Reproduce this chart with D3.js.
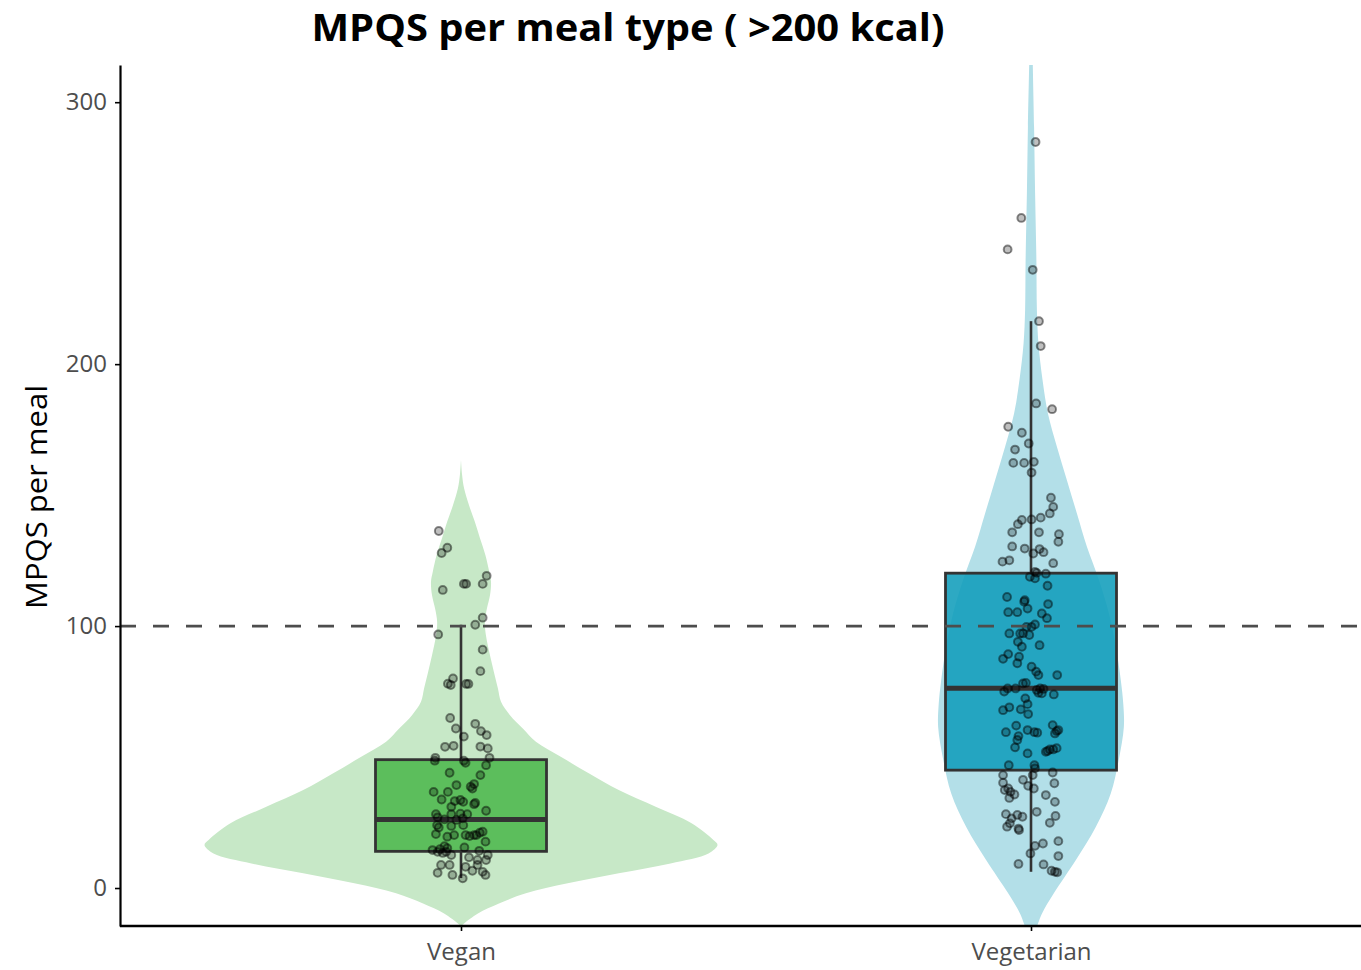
<!DOCTYPE html>
<html>
<head>
<meta charset="utf-8">
<script src="https://cdn.jsdelivr.net/npm/d3@7"></script>
<style>
  html, body { margin: 0; padding: 0; background: #ffffff; }
  svg { display: block; }
</style>
</head>
<body>
<svg id="chart" width="1361" height="970"></svg>
<script>
// ---------------- DATA ----------------
const categories = ["Vegan", "Vegetarian"];
const yTicks = [0, 100, 200, 300];
const referenceLine = 100;

// Box-plot statistics: [lower whisker, Q1, median, Q3, upper whisker]
const veganBox = [3.8, 14.0, 26.2, 49.0, 100.5];
const vegetarianBox = [6.2, 45.0, 76.3, 120.2, 216.4];

// Violin density profiles (value, relative density)
const veganViolinY = [-14.5, -13.5, -9.7, -5.9, -2.0, 1.8, 5.6, 9.4, 13.2, 16.4, 18.3, 24.7, 31, 37.4, 43.8, 50.1, 55.8, 60.9, 66, 71.1, 76.2, 82.6, 88.9, 96.6, 101.6, 106.7, 111.8, 116.9, 120.7, 127.1, 133.5, 139.8, 146.2, 152.6, 158, 163.4];
const veganViolinD = [0, 0.012, 0.066, 0.148, 0.253, 0.416, 0.615, 0.817, 0.965, 1.0, 0.984, 0.899, 0.759, 0.615, 0.498, 0.389, 0.292, 0.241, 0.191, 0.156, 0.144, 0.128, 0.113, 0.097, 0.093, 0.101, 0.113, 0.117, 0.110, 0.095, 0.074, 0.054, 0.031, 0.012, 0.004, 0];
const vegetarianViolinY = [-14.8, -9.7, -2, 10.7, 23.4, 36.1, 48.9, 61.5, 70, 79.4, 92.1, 104.8, 117.6, 130.3, 143, 155.7, 168.5, 181.2, 193.9, 207.9, 220.6, 239.7, 265.1, 290.6, 314.5];
const vegetarianViolinD = [0.023, 0.043, 0.089, 0.175, 0.253, 0.311, 0.342, 0.362, 0.360, 0.350, 0.331, 0.304, 0.265, 0.218, 0.179, 0.140, 0.101, 0.066, 0.045, 0.029, 0.023, 0.021, 0.016, 0.012, 0.007];

// Individual meals (MPQS values) and their horizontal jitter (category units)
const veganValues = [136.3,129.9,127.9,119.2,116.1,116.1,116.1,113.8,103.2,100.5,
  96.8,91,82.8,80,78,77.5,77.9,77.9,64.9,62.7,
  60.9,59.9,58.4,57.8,53.9,54.3,54,53.3,49.7,49.7,
  48.6,48.6,47.8,46.9,44,43.1,39.3,38.7,39.7,38,
  36.7,36.7,33.6,33.2,32.9,33.8,32,32.5,31,29.5,
  28.2,27,28.2,28.4,28.2,26.2,26,26.6,24,23.1,
  23.7,24,21.5,21.1,20.6,19.6,20.2,20.2,19.8,20.2,
  20.2,17.7,14.5,13.8,13.4,13.8,16,15.5,14.2,12.6,
  12.6,8.8,8.8,11.7,10.7,10.7,5.8,5,3.7,6.6,
  6.2,5,8.1,8.8,14.8,15.2];
const veganJitter = [-0.039,-0.024,-0.034,0.045,0.005,0.009,0.038,-0.032,0.038,0.025,
  -0.040,0.038,0.034,-0.014,-0.023,-0.018,0.009,0.013,-0.019,0.025,
  -0.009,0.035,0.045,0.005,-0.028,-0.013,0.034,0.047,0.050,-0.045,
  0.005,-0.046,0.008,0.044,-0.020,0.034,-0.008,0.017,0.023,0.020,
  -0.048,-0.023,-0.001,-0.011,0.004,-0.034,0.023,0.025,-0.017,0.044,
  -0.044,-0.041,-0.017,-0.001,0.011,-0.029,-0.008,0.003,-0.042,-0.039,
  -0.017,0.004,0.038,0.033,-0.044,-0.024,-0.012,0.008,0.015,0.023,
  0.027,0.043,-0.050,-0.041,-0.032,-0.026,-0.029,0.006,0.032,0.047,
  -0.017,-0.035,-0.020,0.014,0.029,0.044,-0.041,-0.015,0.003,0.020,
  0.038,0.043,0.008,0.029,-0.037,-0.024];

const vegetarianValues = [284.8,255.8,243.8,236,216.4,206.9,185,182.8,176.1,173.8,
  167.4,169.7,162.3,162.3,162.7,158.6,149,145.5,143,141.4,
  140.7,140.5,138.9,135.8,135.8,135.1,132.2,130.4,129.6,129.4,
  128.2,127.7,124,124.6,125.1,120.7,120.3,120,118.8,118.2,
  115.4,111.1,109.9,109.3,106.7,108.4,105.3,105.3,104.8,103,
  100.6,99.7,99.7,96.6,97.2,97.2,97.2,94,92.1,92.7,
  89.3,87.5,88.3,85.8,84.5,82.6,81.3,81.3,76.2,76.2,
  75,78.1,78.3,75.6,74.5,76.2,74.3,76,73.9,72.4,
  70.2,68.2,67.9,69,66.4,62,59.5,58,56.5,53.7,
  60.3,59.5,59.3,62.2,59.9,60.3,59,51.4,52,52.9,
  52.9,53.4,52.3,46.9,46.9,45.7,43.1,40.2,37.4,38,
  36.7,35.7,34.4,41.3,39,38,43.1,44.1,40,35.5,
  32.9,28.2,26.6,24.7,27.9,27.2,23.4,22.7,22.1,29.1,
  27.5,24.9,16.1,17,13.2,17.9,12.2,9.2,9,6.6,
  6.2,6];
const vegetarianJitter = [0.008,-0.017,-0.041,0.003,0.014,0.017,0.009,0.037,-0.040,-0.016,
  -0.028,-0.004,-0.031,-0.012,0.005,0.001,0.035,0.039,0.033,0.017,
  0.001,-0.016,-0.023,-0.033,0.014,0.049,0.048,-0.033,-0.011,0.015,
  0.022,0.004,0.039,-0.050,-0.038,0.007,0.010,0.026,-0.002,0.007,
  0.029,-0.042,-0.011,-0.012,-0.006,0.030,-0.040,-0.024,0.019,0.028,
  0.007,0.001,-0.008,-0.003,-0.014,-0.019,-0.038,-0.023,-0.016,0.015,
  -0.040,-0.049,-0.021,-0.024,0.001,0.009,0.013,0.046,-0.041,-0.027,
  -0.047,-0.014,-0.009,0.010,0.013,0.016,0.019,0.022,0.040,-0.010,
  -0.006,-0.018,-0.049,-0.038,-0.005,-0.026,-0.044,-0.022,-0.024,-0.028,
  -0.006,0.006,0.011,0.038,0.045,0.048,0.042,-0.006,0.026,0.033,
  0.039,0.045,0.029,-0.039,0.006,0.007,-0.049,-0.049,-0.046,-0.040,
  -0.036,-0.029,-0.038,-0.014,-0.005,0.005,0.003,0.038,0.041,0.026,
  0.042,-0.044,-0.034,-0.037,-0.024,-0.015,-0.042,-0.022,-0.021,0.010,
  0.043,0.033,0.007,0.021,-0.001,0.048,0.048,-0.022,0.022,0.036,
  0.042,0.046];

// ---------------- STYLE ----------------
const violinColors = ["#C7E8C7", "#B3DFE8"];
const boxColors = ["#5CBE5C", "#109DBB"];
const boxOpacity = [1, 0.88];
const FONT = "'Open Sans', 'Noto Sans', 'DejaVu Sans', sans-serif";

// ---------------- LAYOUT ----------------
const panel = { left: 120, right: 1361, top: 65, bottom: 926 };
const svg = d3.select("#chart");

const y = d3.scaleLinear().domain([-14.5, 314.2]).range([panel.bottom, panel.top]);
const x = d3.scaleLinear().domain([0.4, 2.6]).range([119, 1373]);
const halfWidth = d3.scaleLinear().domain([0, 1]).range([0, 0.45]);
const boxHalf = 0.15;

svg.append("defs").append("clipPath").attr("id", "panelClip")
  .append("rect")
  .attr("x", panel.left).attr("y", panel.top)
  .attr("width", panel.right - panel.left).attr("height", panel.bottom - panel.top);

const plot = svg.append("g").attr("clip-path", "url(#panelClip)");

const groups = [
  { cat: 1, vy: veganViolinY, vd: veganViolinD, box: veganBox, values: veganValues, jitter: veganJitter },
  { cat: 2, vy: vegetarianViolinY, vd: vegetarianViolinD, box: vegetarianBox, values: vegetarianValues, jitter: vegetarianJitter }
];

// Violins
groups.forEach((g, i) => {
  const pts = g.vy.map((v, k) => ({ v, d: g.vd[k] }));
  const area = d3.area()
    .y(p => y(p.v))
    .x0(p => x(g.cat - halfWidth(p.d)))
    .x1(p => x(g.cat + halfWidth(p.d)))
    .curve(d3.curveCatmullRom.alpha(0.5));
  plot.append("path").datum(pts)
    .attr("d", area)
    .attr("fill", violinColors[i])
    .attr("stroke", "none");
});

// Boxes
groups.forEach((g, i) => {
  const [lo, q1, med, q3, hi] = g.box;
  const gb = plot.append("g");
  gb.append("line")
    .attr("x1", x(g.cat)).attr("x2", x(g.cat))
    .attr("y1", y(q3)).attr("y2", y(hi))
    .attr("stroke", "#333333").attr("stroke-width", 2.6);
  gb.append("line")
    .attr("x1", x(g.cat)).attr("x2", x(g.cat))
    .attr("y1", y(q1)).attr("y2", y(lo))
    .attr("stroke", "#333333").attr("stroke-width", 2.6);
  gb.append("rect")
    .attr("x", x(g.cat - boxHalf)).attr("y", y(q3))
    .attr("width", x(g.cat + boxHalf) - x(g.cat - boxHalf))
    .attr("height", y(q1) - y(q3))
    .attr("fill", boxColors[i]).attr("fill-opacity", boxOpacity[i])
    .attr("stroke", "#333333").attr("stroke-width", 2.8);
  gb.append("line")
    .attr("x1", x(g.cat - boxHalf)).attr("x2", x(g.cat + boxHalf))
    .attr("y1", y(med)).attr("y2", y(med))
    .attr("stroke", "#333333").attr("stroke-width", 5);
});

// Jittered points
groups.forEach(g => {
  plot.append("g").selectAll("circle")
    .data(g.values.map((v, k) => ({ v, j: g.jitter[k] })))
    .join("circle")
    .attr("cx", p => x(g.cat + p.j))
    .attr("cy", p => y(p.v))
    .attr("r", 3.9)
    .attr("fill", "#000000").attr("fill-opacity", 0.25)
    .attr("stroke", "#000000").attr("stroke-opacity", 0.45).attr("stroke-width", 2);
});

// Reference line
plot.append("line")
  .attr("x1", panel.left).attr("x2", panel.right)
  .attr("y1", y(referenceLine)).attr("y2", y(referenceLine))
  .attr("stroke", "#4D4D4D").attr("stroke-width", 2.6)
  .attr("stroke-dasharray", "16,17");

// Axes
const yAxis = svg.append("g")
  .attr("transform", `translate(${panel.left},0)`)
  .call(d3.axisLeft(y).tickValues(yTicks).tickSize(5).tickSizeOuter(0).tickPadding(8));
yAxis.select(".domain").attr("stroke", "#000000").attr("stroke-width", 2.2);
yAxis.selectAll(".tick line").attr("stroke", "#000000").attr("stroke-width", 1.6);
yAxis.selectAll(".tick text")
  .attr("fill", "#4D4D4D").style("font-family", FONT).style("font-size", "24px");

const xAxis = svg.append("g")
  .attr("transform", `translate(0,${panel.bottom})`)
  .call(d3.axisBottom(x).tickValues([1, 2]).tickFormat(d => categories[d - 1])
    .tickSize(5).tickSizeOuter(0).tickPadding(12));
xAxis.select(".domain").attr("d", `M${panel.left},0H${panel.right}`)
  .attr("stroke", "#000000").attr("stroke-width", 2.6);
xAxis.selectAll(".tick line").attr("stroke", "#000000").attr("stroke-width", 1.6);
xAxis.selectAll(".tick text")
  .attr("fill", "#4D4D4D").style("font-family", FONT).style("font-size", "24px");

// Titles
svg.append("text")
  .attr("x", 628).attr("y", 41)
  .attr("text-anchor", "middle")
  .style("font-family", FONT).style("font-weight", "bold").style("font-size", "37px")
  .attr("textLength", 633).attr("lengthAdjust", "spacingAndGlyphs")
  .attr("fill", "#000000")
  .text("MPQS per meal type ( >200 kcal)");

svg.append("text")
  .attr("transform", "translate(47,497) rotate(-90)")
  .attr("text-anchor", "middle")
  .style("font-family", FONT).style("font-size", "29px")
  .attr("textLength", 224).attr("lengthAdjust", "spacingAndGlyphs")
  .attr("fill", "#000000")
  .text("MPQS per meal");
</script>
</body>
</html>
